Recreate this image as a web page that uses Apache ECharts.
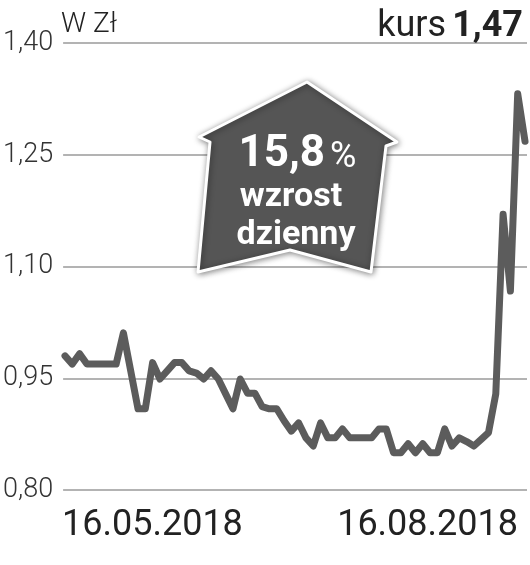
<!DOCTYPE html>
<html>
<head>
<meta charset="utf-8">
<script src="https://cdn.jsdelivr.net/npm/echarts@6/dist/echarts.min.js"></script>
<style>
html,body{margin:0;padding:0;background:#fff;}
#chart{width:530px;height:565px;}
</style>
</head>
<body>
<div id="chart"></div>
<script>
// ---- data ----
var prices = [
  0.980, 0.969, 0.983, 0.969, 0.969, 0.969, 0.969, 0.969, 1.011, 0.960,
  0.909, 0.909, 0.971, 0.949, 0.960, 0.971, 0.971, 0.960, 0.957, 0.949,
  0.960, 0.949, 0.929, 0.909, 0.949, 0.930, 0.930, 0.912, 0.909, 0.909,
  0.893, 0.879, 0.890, 0.870, 0.859, 0.890, 0.870, 0.870, 0.882, 0.870,
  0.870, 0.870, 0.870, 0.882, 0.882, 0.850, 0.850, 0.862, 0.850, 0.862,
  0.850, 0.850, 0.882, 0.859, 0.870, 0.865, 0.859, 0.868, 0.877, 0.929,
  1.170, 1.067, 1.332, 1.268
];
var days = prices.map(function (_, i) { return String(i); });
var xTickLabels = ['16.05.2018', '16.08.2018'];
var yTicks = [0.80, 0.95, 1.10, 1.25, 1.40];
var unitLabel = 'W Zł';
var rateLabel = 'kurs';
var rateValue = '1,47';
var changeValue = '15,8';
var changeUnit = '%';
var changeLines = ['wzrost', 'dzienny'];

var FONT = 'Roboto, "Liberation Sans", sans-serif';
var chart = echarts.init(document.getElementById('chart'), null, {renderer: 'canvas'});

function txt(x, y, text, size, weight, align, fill, z) {
  return {type: 'text', z: z || 10, x: x, y: y, style: {
    text: text, fontSize: size, fontWeight: weight, fontFamily: FONT,
    fill: fill || '#222222', align: align, verticalAlign: 'middle'
  }};
}

var option = {
  backgroundColor: '#ffffff',
  animation: false,
  grid: [
    {left: 63, right: 3, top: 43, bottom: 75},
    {left: 65, right: 5, top: 43, bottom: 75}
  ],
  xAxis: [
    {gridIndex: 0, type: 'category', data: xTickLabels, show: false},
    {gridIndex: 1, type: 'category', data: days, boundaryGap: false, show: false}
  ],
  yAxis: [
    {
      gridIndex: 0, type: 'value', min: yTicks[0], max: yTicks[yTicks.length - 1], interval: 0.15,
      axisLine: {show: false}, axisTick: {show: false},
      splitLine: {show: true, lineStyle: {color: '#b3b3b3', width: 2}},
      axisLabel: {
        margin: 10, fontSize: 27, fontWeight: 300, fontFamily: FONT, color: '#333333',
        formatter: function (v) { return v.toFixed(2).replace('.', ','); }
      }
    },
    {gridIndex: 1, type: 'value', min: yTicks[0], max: yTicks[yTicks.length - 1], show: false}
  ],
  series: [{
    type: 'line', xAxisIndex: 1, yAxisIndex: 1, data: prices,
    symbol: 'none', clip: false, smooth: false,
    lineStyle: {color: '#5c5c5c', width: 7, cap: 'round', join: 'round'}
  }],
  graphic: [
    txt(61, 25, unitLabel, 28, 300, 'left'),
    txt(446, 27, rateLabel, 36, 400, 'right'),
    txt(523, 27, rateValue, 36, 700, 'right'),
    txt(62, 526, xTickLabels[0], 36, 400, 'left'),
    txt(518, 526, xTickLabels[1], 36, 400, 'right'),
    {type: 'polygon', z: 20, shape: {points: [
      [307, 82], [397, 142], [386, 146], [371, 272], [290, 250], [198, 272], [210, 142], [199, 137]
    ]}, style: {fill: '#555555', stroke: '#ffffff', lineWidth: 3, lineJoin: 'round',
      shadowBlur: 6, shadowColor: 'rgba(0,0,0,0.45)', shadowOffsetX: 1, shadowOffsetY: 1}},
    txt(325, 155, changeValue, 44, 700, 'right', '#ffffff', 21),
    txt(330, 158, changeUnit, 36, 400, 'left', '#ffffff', 21),
    txt(291, 197, changeLines[0], 34, 700, 'center', '#ffffff', 21),
    txt(296, 235, changeLines[1], 34, 700, 'center', '#ffffff', 21)
  ]
};
chart.setOption(option);
</script>
</body>
</html>
